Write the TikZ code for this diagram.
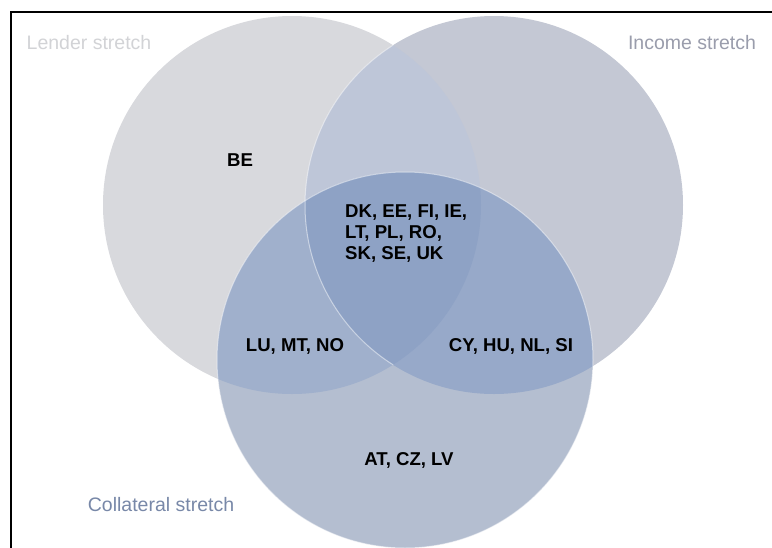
\documentclass[tikz,border=0pt]{standalone}
\usepackage{fontspec}
\setmainfont{Liberation Sans}
\definecolor{lenderonly}{HTML}{D8D9DD}
\definecolor{incomeonly}{HTML}{C4C8D4}
\definecolor{lenderincome}{HTML}{BEC6D8}
\definecolor{collonly}{HTML}{B4BED0}
\definecolor{colllender}{HTML}{A0B0CC}
\definecolor{collincome}{HTML}{97A9C9}
\definecolor{allthree}{HTML}{8EA2C5}
\definecolor{lendertxt}{HTML}{D2D3D6}
\definecolor{incometxt}{HTML}{9A9DAC}
\definecolor{colltxt}{HTML}{7888A8}
\tikzset{
  country/.style={font=\fontsize{18.6}{21}\selectfont\bfseries, text=black, inner sep=0pt},
  setlabel/.style={font=\fontsize{19.5}{22}\selectfont, inner sep=0pt},
  rim/.style={draw=white, draw opacity=0.5, line width=1pt}
}
\begin{document}
\begin{tikzpicture}[x=1pt,y=-1pt]
\useasboundingbox (0,0) rectangle (772,547);
\fill[white] (0,0) rectangle (772,547);
\begin{scope}
\clip (0,0) rectangle (772,547);
% frame
\draw[black, line width=1.6pt] (11,12) rectangle (820,600);
% coordinates of circle centres
\coordinate (L) at (292,205);
\coordinate (I) at (494,205);
\coordinate (C) at (405,360);
% base circles
\fill[lenderonly] (L) circle (189pt);
\fill[incomeonly] (I) circle (189pt);
\begin{scope}
  \clip (L) circle (189pt);
  \fill[lenderincome] (I) circle (189pt);
\end{scope}
\fill[collonly] (C) circle (188pt);
\begin{scope}
  \clip (C) circle (188pt);
  \fill[colllender] (L) circle (189pt);
  \fill[collincome] (I) circle (189pt);
  \begin{scope}
    \clip (L) circle (189pt);
    \fill[allthree] (I) circle (189pt);
  \end{scope}
\end{scope}
% faint light rims
\begin{scope}
  \clip (L) circle (189pt);
  \draw[rim] (I) circle (189pt);
\end{scope}
\draw[rim] (C) circle (188pt);
\end{scope}
% set labels
\node[setlabel, text=lendertxt] (lenderlbl) at (89,43) {Lender stretch};
\node[setlabel, text=incometxt] (incomelbl) at (692,43) {Income stretch};
\node[setlabel, text=colltxt] (colllbl) at (161,505) {Collateral stretch};
% country labels
\node[country] (be) at (240,160) {BE};
\node[country, align=left, anchor=west] (centre) at (345,234) {DK, EE, FI, IE,\\LT, PL, RO,\\SK, SE, UK};
\node[country] (lu) at (295,346) {LU, MT, NO};
\node[country] (cy) at (511,346) {CY, HU, NL, SI};
\node[country] (at) at (409,460) {AT, CZ, LV};
\end{tikzpicture}
\end{document}
